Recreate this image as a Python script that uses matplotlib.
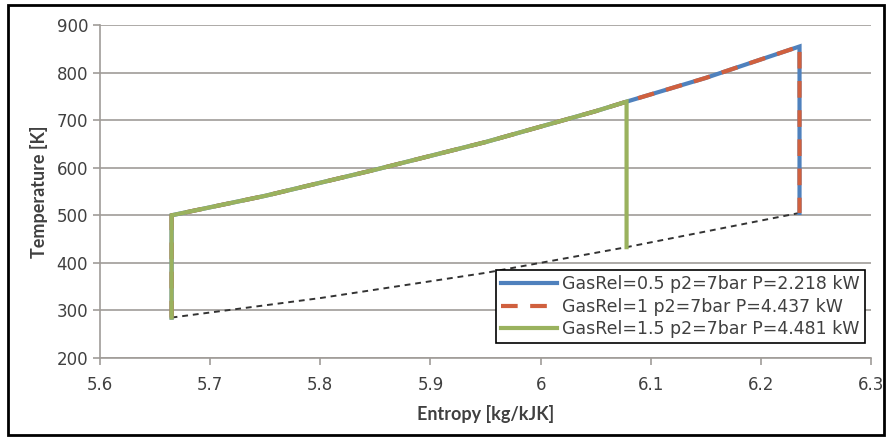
import numpy as np
import matplotlib.pyplot as plt
from matplotlib.patches import Rectangle

plt.rcParams['font.family'] = ['DejaVu Sans']

# high pressure isobar
s_hi = [5.665, 5.75, 5.85, 5.95, 6.05, 6.078, 6.15, 6.235]
T_hi = [500, 541, 596, 654, 719, 739, 789, 855]

# low pressure isobar (dashed black)
s_lo = [5.665, 5.8, 5.95, 6.078, 6.235]
T_lo = [285, 326, 379, 433, 505]

# end of expansion for each case
s_end = [6.235, 6.235, 6.078]
T_bot = [505, 505, 433]

labels = ['GasRel=0.5 p2=7bar P=2.218 kW',
          'GasRel=1 p2=7bar P=4.437 kW',
          'GasRel=1.5 p2=7bar P=4.481 kW']
colors = ['#4F81BD', '#D0603E', '#9AB25E']
styles = ['-', (0, (4, 3)), '-']

fig = plt.figure(figsize=(8.88, 4.40), dpi=100)
ax = fig.add_axes([0.1126, 0.1864, 0.8684, 0.7566])

for i in range(3):
    xs = [s_lo[0]] + [s for s in s_hi if s <= s_end[i]] + [s_end[i]]
    ys = [T_lo[0]] + [t for s, t in zip(s_hi, T_hi) if s <= s_end[i]] + [T_bot[i]]
    ax.plot(xs, ys, color=colors[i], linestyle=styles[i], lw=3,
            label=labels[i], zorder=3 + i, solid_joinstyle='miter')

ax.plot(s_lo, T_lo, color='#333333', linestyle=(0, (3, 2.5)), lw=1.4, zorder=2)

ax.set_xlim(5.6, 6.3)
ax.set_ylim(200, 900)
ax.set_xticks(np.arange(5.6, 6.31, 0.1))
ax.set_xticklabels(['5.6', '5.7', '5.8', '5.9', '6', '6.1', '6.2', '6.3'])
ax.set_yticks(range(200, 901, 100))
ax.yaxis.grid(True, color='#a09c98', lw=1.2)
ax.set_axisbelow(True)
for sp in ['top', 'right']:
    ax.spines[sp].set_visible(False)
for sp in ['left', 'bottom']:
    ax.spines[sp].set_color('#a09c98')
    ax.spines[sp].set_linewidth(1.2)
ax.tick_params(colors='#a09c98', labelcolor='#404040', labelsize=12, length=5, width=1.2)
ax.tick_params(axis='x', pad=8)

ax.set_xlabel('Entropy [kg/kJK]', fontsize=13, fontweight='bold', color='#404040',
              labelpad=8, family='Lato')
ax.set_ylabel('Temperature [K]', fontsize=13, fontweight='bold', color='#404040',
              labelpad=6, family='Lato')

leg = ax.legend(loc='lower right', bbox_to_anchor=(1.003, 0.018), fontsize=12.5,
                fancybox=False, edgecolor='black', framealpha=1,
                handlelength=3.2, borderpad=0.3, labelspacing=0.25, handletextpad=0.3)
leg.get_frame().set_linewidth(1.2)
for t in leg.get_texts():
    t.set_color('#404040')

fig.patches.append(Rectangle((8 / 888, 5 / 440), 876 / 888, 430 / 440, transform=fig.transFigure,
                             fill=False, edgecolor='black', lw=2))

fig.savefig('out.png', dpi=100)
